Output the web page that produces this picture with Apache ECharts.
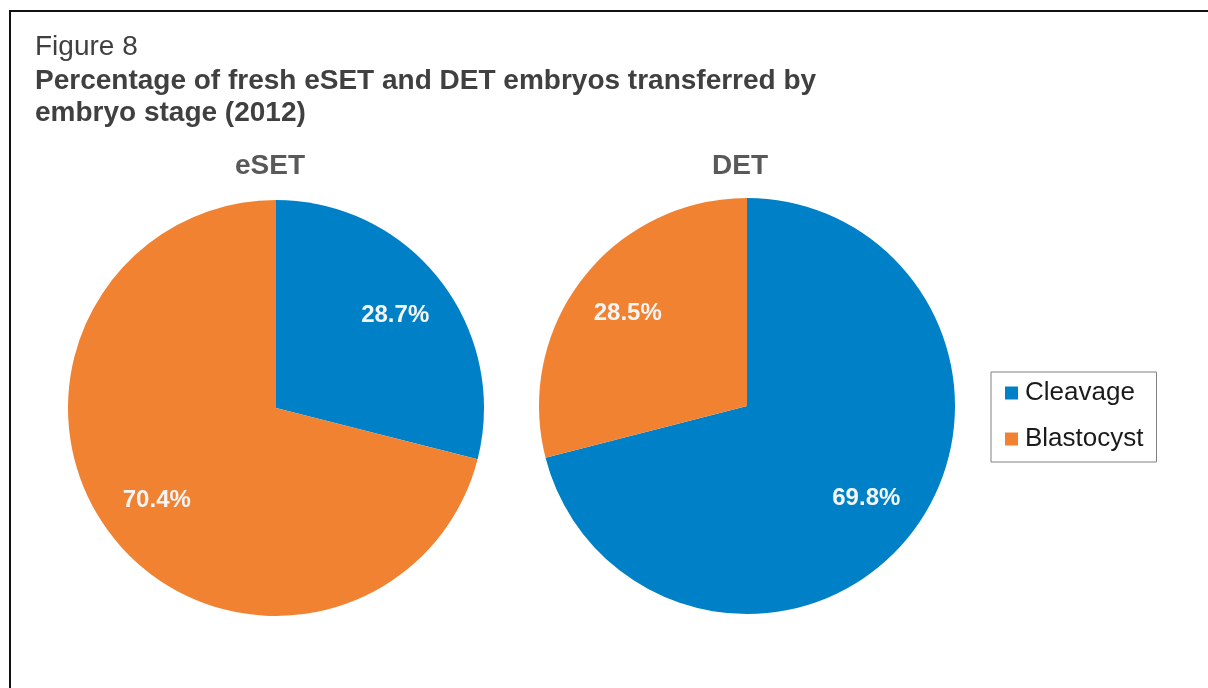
<!DOCTYPE html>
<html>
<head>
<meta charset="utf-8">
<script src="https://cdn.jsdelivr.net/npm/echarts@6/dist/echarts.min.js"></script>
<style>
  html,body{margin:0;padding:0;background:#fff;}
  #chart{width:1208px;height:688px;}
</style>
</head>
<body>
<div id="chart"></div>
<script>
// 类别和数据
const categories = ['Cleavage', 'Blastocyst']
const esetValues = [28.7, 70.4]
const detValues = [69.8, 28.5]
const colors = ['#0080C6', '#F08232']

const FONT = '"Liberation Sans", Arial, sans-serif'

const chart = echarts.init(document.getElementById('chart'))

const toData = vals => categories.map((name, i) => ({ name, value: vals[i] }))

// 饼图本体
function pieSeries(vals, center) {
  return {
    type: 'pie',
    center: center,
    radius: [0, 208],
    startAngle: 90,
    clockwise: true,
    silent: true,
    label: { show: false },
    labelLine: { show: false },
    data: toData(vals)
  }
}

// 透明的一层，只用来放百分比标签（标签落在约0.72半径处）
function labelSeries(vals, center) {
  return {
    type: 'pie',
    center: center,
    radius: [0, 296],
    startAngle: 90,
    clockwise: true,
    silent: true,
    z: 5,
    itemStyle: { color: 'rgba(0,0,0,0)' },
    label: {
      show: true,
      position: 'inside',
      formatter: p => p.value.toFixed(1) + '%',
      color: '#f5f5f5',
      fontFamily: FONT,
      fontSize: 24,
      fontWeight: 'bold'
    },
    labelLine: { show: false },
    data: toData(vals)
  }
}

chart.setOption({
  animation: false,
  color: colors,
  textStyle: { fontFamily: FONT },
  title: [
    {
      text: 'Figure 8',
      left: 35, top: 33, padding: 0,
      textStyle: { fontFamily: FONT, fontSize: 28, fontWeight: 'normal', color: '#404040', lineHeight: 28 }
    },
    {
      text: 'Percentage of fresh eSET and DET embryos transferred by\nembryo stage (2012)',
      left: 35, top: 65, padding: 0,
      textStyle: { fontFamily: FONT, fontSize: 28, fontWeight: 'bold', color: '#404040', lineHeight: 32 }
    },
    {
      text: 'eSET',
      left: 270, top: 152, textAlign: 'center', padding: 0,
      textStyle: { fontFamily: FONT, fontSize: 28, fontWeight: 'bold', color: '#595959' }
    },
    {
      text: 'DET',
      left: 740, top: 152, textAlign: 'center', padding: 0,
      textStyle: { fontFamily: FONT, fontSize: 28, fontWeight: 'bold', color: '#595959' }
    }
  ],
  legend: {
    orient: 'vertical',
    left: 991, top: 372,
    data: categories,
    icon: 'rect',
    itemWidth: 13, itemHeight: 13,
    itemGap: 20,
    padding: [8, 13, 10, 14],
    borderColor: '#808080',
    borderWidth: 1,
    textStyle: { fontFamily: FONT, fontSize: 26, color: '#1a1a1a', padding: [0, 0, 0, 2] }
  },
  // 外框
  graphic: [
    {
      type: 'rect',
      shape: { x: 10, y: 11, width: 1400, height: 900 },
      style: { fill: 'none', stroke: '#111', lineWidth: 2 },
      silent: true
    }
  ],
  series: [
    pieSeries(esetValues, [276, 408]),
    pieSeries(detValues, [747, 406]),
    labelSeries(esetValues, [276, 408]),
    labelSeries(detValues, [747, 406])
  ]
})
</script>
</body>
</html>
